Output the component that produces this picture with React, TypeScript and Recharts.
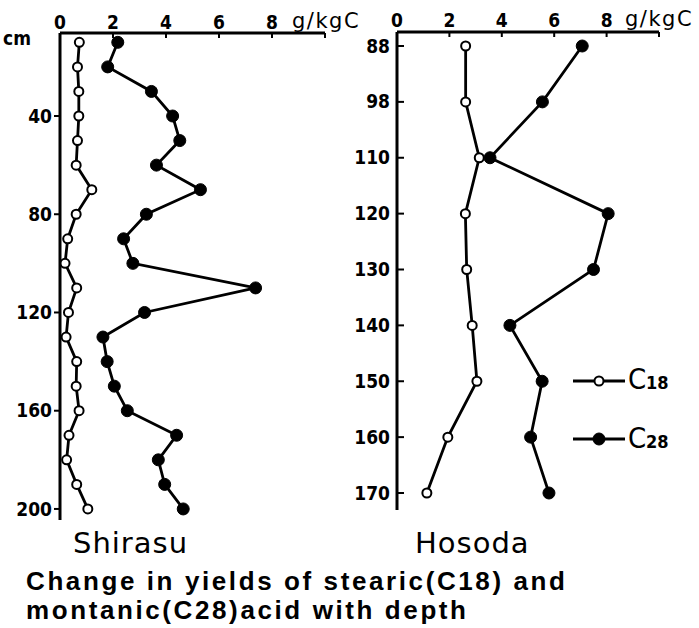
import React from 'react';
import { LineChart, Line, XAxis, YAxis } from 'recharts';

const shirasuDepth = [10, 20, 30, 40, 50, 60, 70, 80, 90, 100, 110, 120, 130, 140, 150, 160, 170, 180, 190, 200];
const shirasuC18 = [0.73, 0.66, 0.71, 0.71, 0.66, 0.61, 1.2, 0.61, 0.29, 0.19, 0.63, 0.32, 0.23, 0.63, 0.61, 0.72, 0.34, 0.25, 0.63, 1.05];
const shirasuC28 = [2.18, 1.8, 3.45, 4.25, 4.52, 3.64, 5.3, 3.26, 2.4, 2.75, 7.38, 3.19, 1.62, 1.78, 2.05, 2.54, 4.4, 3.71, 3.95, 4.65];

const hosodaDepth = ['88', '98', '110', '120', '130', '140', '150', '160', '170'];
const hosodaC18 = [2.62, 2.62, 3.14, 2.61, 2.66, 2.87, 3.05, 1.94, 1.14];
const hosodaC28 = [7.07, 5.55, 3.55, 8.06, 7.5, 4.31, 5.54, 5.1, 5.8];

const valueTicks = [0, 2, 4, 6, 8, 10];
const shirasuDepthTicks = [40, 80, 120, 160, 200];

const shirasuData = shirasuDepth.map((d, i) => ({ depth: d, c18: shirasuC18[i], c28: shirasuC28[i] }));
const hosodaData = hosodaDepth.map((d, i) => ({ depth: d, c18: hosodaC18[i], c28: hosodaC28[i] }));

const TICK_FONT = '"DejaVu Sans Condensed", "DejaVu Sans", sans-serif';

const TopTick = (props: any) => {
  const { x, y, payload, lift } = props;
  return (
    <g>
      <line x1={x} x2={x} y1={y} y2={y + 5} stroke="#000" strokeWidth={2} />
      {payload.value !== 10 && (
        <text x={x} y={y - lift} textAnchor="middle" fontFamily={TICK_FONT} fontWeight="bold" fontSize={19} fill="#000">
          {payload.value}
        </text>
      )}
    </g>
  );
};

const RightTick = (props: any) => {
  const { x, y, payload } = props;
  const ax = x + 7;
  return (
    <g>
      <line x1={ax} x2={ax + 7} y1={y} y2={y} stroke="#000" strokeWidth={2} />
      <text x={x} y={y} dy={6.5} textAnchor="end" fontFamily={TICK_FONT} fontWeight="bold" fontSize={19} fill="#000">
        {payload.value}
      </text>
    </g>
  );
};

const openDot = { r: 4.5, fill: '#fff', stroke: '#000', strokeWidth: 2 };
const filledDot = { r: 6, fill: '#000', stroke: '#000', strokeWidth: 1 };

export default function App() {
  return (
    <div style={{ position: 'absolute', left: 0, top: 0, width: 699, height: 628, background: '#fff' }}>
      <div style={{ position: 'absolute', left: 0, top: 0 }}>
        <LineChart width={340} height={560} data={shirasuData} layout="vertical" margin={{ top: 10, right: 15, bottom: 40, left: 10 }}>
          <XAxis
            type="number"
            dataKey="c18"
            orientation="top"
            domain={[0, 10]}
            ticks={valueTicks}
            height={23}
            tickSize={0}
            tickMargin={0}
            tickLine={false}
            axisLine={{ stroke: '#000', strokeWidth: 3 }}
            tick={<TopTick lift={4} />}
            interval={0}
          />
          <YAxis
            type="number"
            dataKey="depth"
            domain={[6.2, 204.5]}
            ticks={shirasuDepthTicks}
            width={50}
            tickSize={6}
            tickMargin={2}
            tickLine={{ stroke: '#000', strokeWidth: 2 }}
            axisLine={{ stroke: '#000', strokeWidth: 3 }}
            tick={{ fontFamily: TICK_FONT, fontWeight: 'bold', fontSize: 19, fill: '#000' }}
            interval={0}
          />
          <Line dataKey="c18" stroke="#000" strokeWidth={2.8} dot={openDot} isAnimationActive={false} />
          <Line dataKey="c28" stroke="#000" strokeWidth={2.8} dot={filledDot} isAnimationActive={false} />
        </LineChart>
      </div>
      <div style={{ position: 'absolute', left: 340, top: 0 }}>
        <LineChart width={340} height={560} data={hosodaData} layout="vertical" margin={{ top: 9, right: 21, bottom: 50, left: 10 }}>
          <XAxis
            type="number"
            dataKey="c18"
            orientation="top"
            domain={[0, 10]}
            ticks={valueTicks}
            height={23}
            tickSize={0}
            tickMargin={0}
            tickLine={false}
            axisLine={{ stroke: '#000', strokeWidth: 3 }}
            tick={<TopTick lift={5} />}
            interval={0}
          />
          <YAxis
            type="category"
            dataKey="depth"
            scale="point"
            padding={{ top: 14, bottom: 17 }}
            width={47}
            tickSize={0}
            tickMargin={7}
            tickLine={false}
            axisLine={{ stroke: '#000', strokeWidth: 3 }}
            tick={<RightTick />}
            interval={0}
          />
          <Line dataKey="c18" stroke="#000" strokeWidth={2.8} dot={openDot} isAnimationActive={false} />
          <Line dataKey="c28" stroke="#000" strokeWidth={2.8} dot={filledDot} isAnimationActive={false} />
        </LineChart>
      </div>
      <svg width={699} height={628} style={{ position: 'absolute', left: 0, top: 0, pointerEvents: 'none' }}>
        <text x={3} y={45} fontFamily={TICK_FONT} fontWeight="bold" fontSize={19} fill="#000">cm</text>
        <text x={292} y={28} fontFamily='"DejaVu Sans", sans-serif' fontSize={21} letterSpacing={1.5} fill="#000">g/kgC</text>
        <text x={625} y={26} fontFamily='"DejaVu Sans", sans-serif' fontSize={21} letterSpacing={1.5} fill="#000">g/kgC</text>

        <line x1={573} x2={625} y1={381} y2={381} stroke="#000" strokeWidth={2.8} />
        <circle cx={599} cy={381} r={4.5} fill="#fff" stroke="#000" strokeWidth={2} />
        <text x={628} y={389} fontFamily={TICK_FONT} fontSize={29} fill="#000">C</text>
        <text x={646} y={389} fontFamily={TICK_FONT} fontWeight="bold" fontSize={18} fill="#000">18</text>

        <line x1={573} x2={625} y1={439} y2={439} stroke="#000" strokeWidth={2.8} />
        <circle cx={599} cy={439} r={6} fill="#000" stroke="#000" strokeWidth={1} />
        <text x={628} y={448} fontFamily={TICK_FONT} fontSize={29} fill="#000">C</text>
        <text x={646} y={448} fontFamily={TICK_FONT} fontWeight="bold" fontSize={18} fill="#000">28</text>

        <text x={73} y={553} fontFamily='"DejaVu Sans", sans-serif' fontSize={29} letterSpacing={1} fill="#000">Shirasu</text>
        <text x={415} y={553} fontFamily='"DejaVu Sans", sans-serif' fontSize={29} letterSpacing={1} fill="#000">Hosoda</text>

        <text x={26} y={590} fontFamily='"Liberation Sans", Arial, sans-serif' fontWeight="bold" fontSize={26} letterSpacing={2.6} fill="#000">Change in yields of stearic(C18) and</text>
        <text x={26} y={619} fontFamily='"Liberation Sans", Arial, sans-serif' fontWeight="bold" fontSize={26} letterSpacing={2.6} fill="#000">montanic(C28)acid with depth</text>
      </svg>
    </div>
  );
}
